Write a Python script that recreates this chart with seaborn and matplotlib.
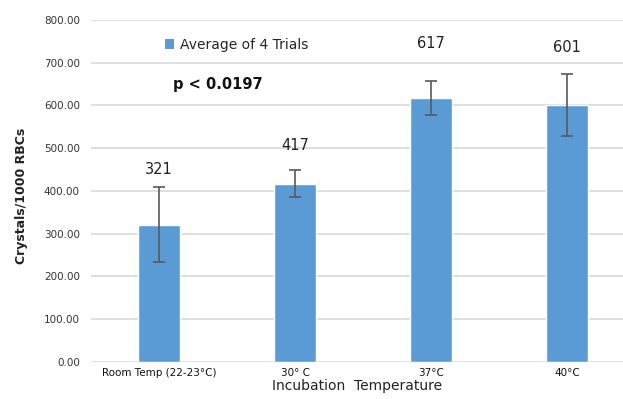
import matplotlib
matplotlib.use("Agg")
import matplotlib.pyplot as plt
import seaborn as sns
import pandas as pd
from matplotlib.patches import Patch
from matplotlib.ticker import FormatStrFormatter

categories = ["Room Temp (22-23°C)", "30° C", "37°C", "40°C"]
values = [321, 417, 617, 601]
errors = [88, 31, 40, 73]
value_labels = ["321", "417", "617", "601"]
label_y = [450, 507, 746, 735]

sns.set_theme(style="white")
plt.rcParams['font.family'] = ['DejaVu Sans']

df = pd.DataFrame({"cat": categories, "val": values})

fig = plt.figure(figsize=(6.23, 3.99), dpi=100)
ax = fig.add_axes([0.146, 0.0927, 0.854, 0.8573])

sns.barplot(data=df, x="cat", y="val", color="#5b9bd5", width=0.31,
            saturation=1, ax=ax, zorder=3)
ax.errorbar(range(len(values)), values, yerr=errors, fmt="none",
            ecolor="#595959", elinewidth=1.2, capsize=4, capthick=1.2, zorder=4)

for i, (lab, y) in enumerate(zip(value_labels, label_y)):
    ax.text(i, y, lab, ha="center", va="center", fontsize=10.5, color="#222222")

ax.set_ylim(0, 800)
ax.set_xlim(-0.5, 3.41)
ax.set_yticks(range(0, 801, 100))
ax.yaxis.set_major_formatter(FormatStrFormatter("%.2f"))
ax.tick_params(axis="y", labelsize=7.5, colors="#333333", length=0, pad=8)
ax.tick_params(axis="x", labelsize=7.5, colors="#111111", length=0, pad=4)
ax.grid(axis="y", color="#d9d9d9", linewidth=1.2, zorder=0)
ax.set_axisbelow(True)
for s in ax.spines.values():
    s.set_visible(False)

ax.set_xlabel("Incubation  Temperature", fontsize=10, color="#222222", labelpad=1)
ax.set_ylabel("Crystals/1000 RBCs", fontsize=9, fontweight="bold", color="#222222")
ax.yaxis.set_label_coords(-0.118, 0.485)

handle = Patch(facecolor="#5b9bd5", edgecolor="none")
leg = ax.legend([handle], ["Average of 4 Trials"], loc="upper left",
                bbox_to_anchor=(0.115, 0.985), frameon=False, fontsize=10,
                handlelength=0.7, handleheight=0.7, handletextpad=0.4)

ax.text(0.155, 0.81, "p < 0.0197", transform=ax.transAxes, fontsize=10.5,
        fontweight="bold", color="#111111", ha="left", va="center")

fig.savefig("out.png", dpi=100)
